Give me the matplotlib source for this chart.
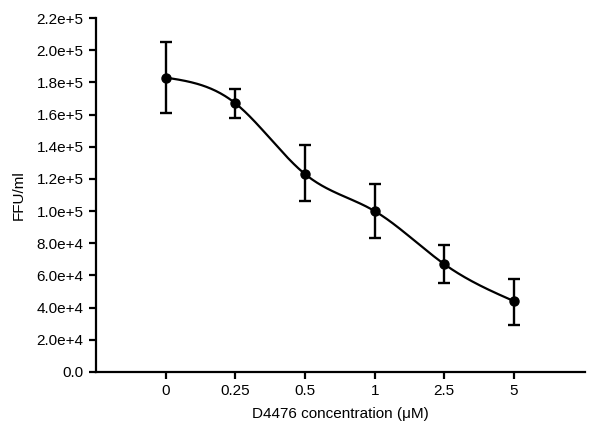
import numpy as np
import matplotlib
matplotlib.use("Agg")
import matplotlib.pyplot as plt

plt.rcParams['font.family'] = ['Liberation Sans', 'DejaVu Sans']

categories = ["0", "0.25", "0.5", "1", "2.5", "5"]
ffu = [1.83e5, 1.67e5, 1.23e5, 1.00e5, 0.67e5, 0.44e5]
err_low = [0.22e5, 0.09e5, 0.17e5, 0.17e5, 0.12e5, 0.15e5]
err_high = [0.22e5, 0.09e5, 0.18e5, 0.17e5, 0.12e5, 0.14e5]
yticks = [0, 2e4, 4e4, 6e4, 8e4, 1e5, 1.2e5, 1.4e5, 1.6e5, 1.8e5, 2.0e5, 2.2e5]
ytick_labels = ["0.0", "2.0e+4", "4.0e+4", "6.0e+4", "8.0e+4", "1.0e+5",
                "1.2e+5", "1.4e+5", "1.6e+5", "1.8e+5", "2.0e+5", "2.2e+5"]


def natural_spline(x, y, xs):
    x = np.asarray(x, float); y = np.asarray(y, float)
    n = len(x)
    h = np.diff(x)
    A = np.zeros((n, n)); b = np.zeros(n)
    A[0, 0] = 1; A[-1, -1] = 1
    for i in range(1, n - 1):
        A[i, i - 1] = h[i - 1]
        A[i, i] = 2 * (h[i - 1] + h[i])
        A[i, i + 1] = h[i]
        b[i] = 3 * ((y[i + 1] - y[i]) / h[i] - (y[i] - y[i - 1]) / h[i - 1])
    c = np.linalg.solve(A, b)
    out = np.empty_like(xs)
    for k, xv in enumerate(xs):
        i = min(max(np.searchsorted(x, xv) - 1, 0), n - 2)
        dx = xv - x[i]
        bi = (y[i + 1] - y[i]) / h[i] - h[i] * (2 * c[i] + c[i + 1]) / 3
        di = (c[i + 1] - c[i]) / (3 * h[i])
        out[k] = y[i] + bi * dx + c[i] * dx ** 2 + di * dx ** 3
    return out


fig = plt.figure(figsize=(6.0, 4.34), dpi=100)
ax = fig.add_axes([0.16, 0.143, 0.815, 0.8155])

xpos = np.arange(len(categories))
xs = np.linspace(0, len(categories) - 1, 300)
ax.plot(xs, natural_spline(xpos, ffu, xs), color='black', lw=1.6)
ax.errorbar(xpos, ffu, yerr=[err_low, err_high], fmt='o', color='black',
            ms=6.5, capsize=4, elinewidth=1.7, capthick=1.7)

ax.set_xlim(-1, 6.02)
ax.set_ylim(0, 2.2e5)
ax.set_xticks(xpos)
ax.set_xticklabels(categories)
ax.set_yticks(yticks)
ax.set_yticklabels(ytick_labels)
for s in ['top', 'right']:
    ax.spines[s].set_visible(False)
for s in ['left', 'bottom']:
    ax.spines[s].set_linewidth(1.6)
ax.tick_params(direction='out', length=5, width=1.6, labelsize=11, pad=4)
ax.set_xlabel("D4476 concentration (\u03bcM)", fontsize=11, labelpad=6)
ax.set_ylabel("FFU/ml", fontsize=11, labelpad=8)

fig.savefig("out.png", dpi=100)
